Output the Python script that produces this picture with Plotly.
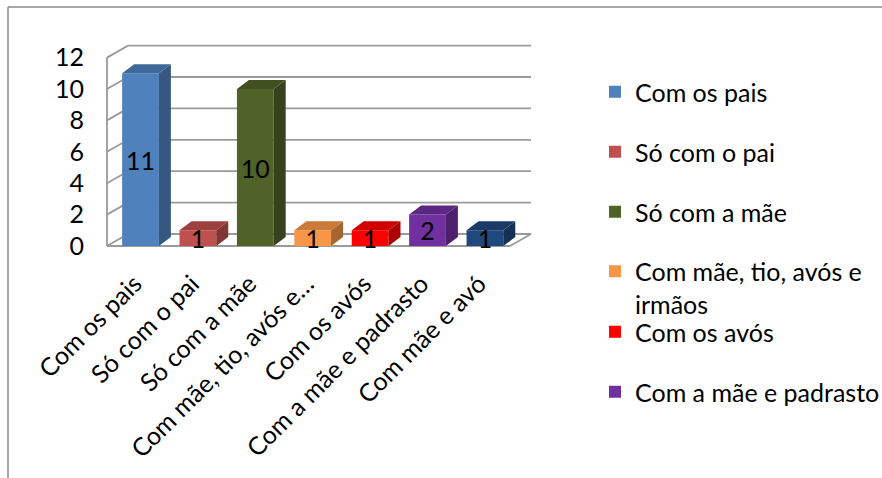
import plotly.graph_objects as go

# ---------------- data ----------------
categories = ["Com os pais", "Só com o pai", "Só com a mãe",
              "Com mãe, tio, avós e irmãos", "Com os avós",
              "Com a mãe e padrasto", "Com mãe e avó"]
tick_labels = ["Com os pais", "Só com o pai", "Só com a mãe",
               "Com mãe, tio, avós e…", "Com os avós",
               "Com a mãe e padrasto", "Com mãe e avó"]
legend_names = ["Com os pais", "Só com o pai", "Só com a mãe",
                "Com mãe, tio, avós e<br>irmãos", "Com os avós",
                "Com a mãe e padrasto", "Com mãe e avó"]
values = [11, 1, 10, 1, 1, 2, 1]
y_ticks = [0, 2, 4, 6, 8, 10, 12]
colors = ["#4F81BD", "#C0504D", "#4F6228", "#F79646", "#FF0000", "#7030A0", "#1F497D"]

# ---------------- layout constants ----------------
W, H = 882, 478
FONT = "Lato"
FS = 25
SX, SY = 57.4, 15.7          # px per data unit
X0PX, Y0PX = 140.5, 246.0    # pixel position of x=0 / y=0
XR = [-0.62, 6.85]
YR = [-0.15, 13.0]
BAR_W = 0.64
BDX, BDY = 12 / SX, 9 / SY   # bar depth
WDX, WDY = 21 / SX, 12 / SY  # wall depth
XMIN, XMAX = -0.584, 6.437   # front floor extent
YMAX = 12

def shade(h, f):
    h = h.lstrip("#")
    r, g, b = (int(h[i:i + 2], 16) for i in (0, 2, 4))
    return "#%02x%02x%02x" % (int(r * f), int(g * f), int(b * f))

xdom = [(X0PX + XR[0] * SX) / W, (X0PX + XR[1] * SX) / W]
ydom = [(H - (Y0PX - YR[0] * SY)) / H, (H - (Y0PX - YR[1] * SY)) / H]

N_LEG = 6
def legend_key(k):
    return "legend" if k == 0 else "legend%d" % (k + 1)

fig = go.Figure()
idx = list(range(len(categories)))
for i in idx:
    fig.add_trace(go.Bar(
        x=[i], y=[values[i]], name=legend_names[i], width=BAR_W,
        marker=dict(color=colors[i], line=dict(width=0)),
        text=[values[i]], textposition="inside", insidetextanchor="middle",
        constraintext="none", textangle=0,
        textfont=dict(family=FONT, size=FS, color="black"),
        showlegend=(i < N_LEG), legend=legend_key(min(i, N_LEG - 1)),
        cliponaxis=False, hoverinfo="skip",
    ))

shapes = []
grid = dict(color="#9A9A9A", width=1.8)
# back wall gridlines + left wall diagonals
for t in y_ticks:
    shapes.append(dict(type="line", xref="x", yref="y", layer="below",
                       x0=XMIN + WDX, x1=XMAX + WDX, y0=t + WDY, y1=t + WDY, line=grid))
    shapes.append(dict(type="line", xref="x", yref="y", layer="below",
                       x0=XMIN, x1=XMIN + WDX, y0=t, y1=t + WDY, line=grid))
# left wall front edge, floor front edge, floor right edge
shapes.append(dict(type="line", xref="x", yref="y", layer="below",
                   x0=XMIN, x1=XMIN, y0=0, y1=YMAX, line=grid))
shapes.append(dict(type="line", xref="x", yref="y", layer="below",
                   x0=XMIN, x1=XMAX, y0=0, y1=0, line=grid))
shapes.append(dict(type="line", xref="x", yref="y", layer="below",
                   x0=XMAX, x1=XMAX + WDX, y0=0, y1=WDY, line=grid))

# 3D faces of bars
for i in idx:
    v = values[i]
    xl, xr = i - BAR_W / 2, i + BAR_W / 2
    side = f"M{xr},0 L{xr + BDX},{BDY} L{xr + BDX},{v + BDY} L{xr},{v} Z"
    top = f"M{xl},{v} L{xr},{v} L{xr + BDX},{v + BDY} L{xl + BDX},{v + BDY} Z"
    shapes.append(dict(type="path", xref="x", yref="y", path=side, layer="above",
                       fillcolor=shade(colors[i], 0.68), line=dict(width=0)))
    shapes.append(dict(type="path", xref="x", yref="y", path=top, layer="above",
                       fillcolor=shade(colors[i], 0.82), line=dict(width=0)))

# chart-area border (top and left visible)
border = dict(color="#8A8A8A", width=1.5)
shapes.append(dict(type="line", xref="paper", yref="paper",
                   x0=8 / W, x1=1.02, y0=1 - 7 / H, y1=1 - 7 / H, line=border))
shapes.append(dict(type="line", xref="paper", yref="paper",
                   x0=8 / W, x1=8 / W, y0=1 - 7 / H, y1=-0.02, line=border))

# legends (one per entry, placed like the original)
legend_centers = [92, 152, 212, 287.5, 332, 392]
legends = {}
for k, cy in enumerate(legend_centers):
    legends[legend_key(k)] = dict(x=595 / W, xanchor="left", y=1 - cy / H, yanchor="middle",
                                  bgcolor="rgba(0,0,0,0)", borderwidth=0,
                                  font=dict(family=FONT, size=FS, color="black"),
                                  valign="top")

fig.update_layout(
    width=W, height=H, margin=dict(l=0, r=0, t=0, b=0, autoexpand=False),
    paper_bgcolor="white", plot_bgcolor="rgba(0,0,0,0)", showlegend=True,
    barmode="overlay", shapes=shapes, font=dict(family=FONT, size=FS, color="black"),
    xaxis=dict(domain=xdom, range=XR, tickmode="array", tickvals=idx, ticktext=tick_labels,
               tickangle=-45, showgrid=False, zeroline=False, showline=False,
               ticks="outside", ticklen=10, tickcolor="rgba(0,0,0,0)", ticklabelshift=-6,
               tickfont=dict(family=FONT, size=FS, color="black"), fixedrange=True),
    yaxis=dict(domain=ydom, range=YR, tickmode="array", tickvals=y_ticks,
               showgrid=False, zeroline=False, showline=False,
               ticks="outside", ticklen=15, tickcolor="rgba(0,0,0,0)",
               tickfont=dict(family=FONT, size=FS, color="black"), fixedrange=True),
    **legends,
)

fig.write_html("out.html")
